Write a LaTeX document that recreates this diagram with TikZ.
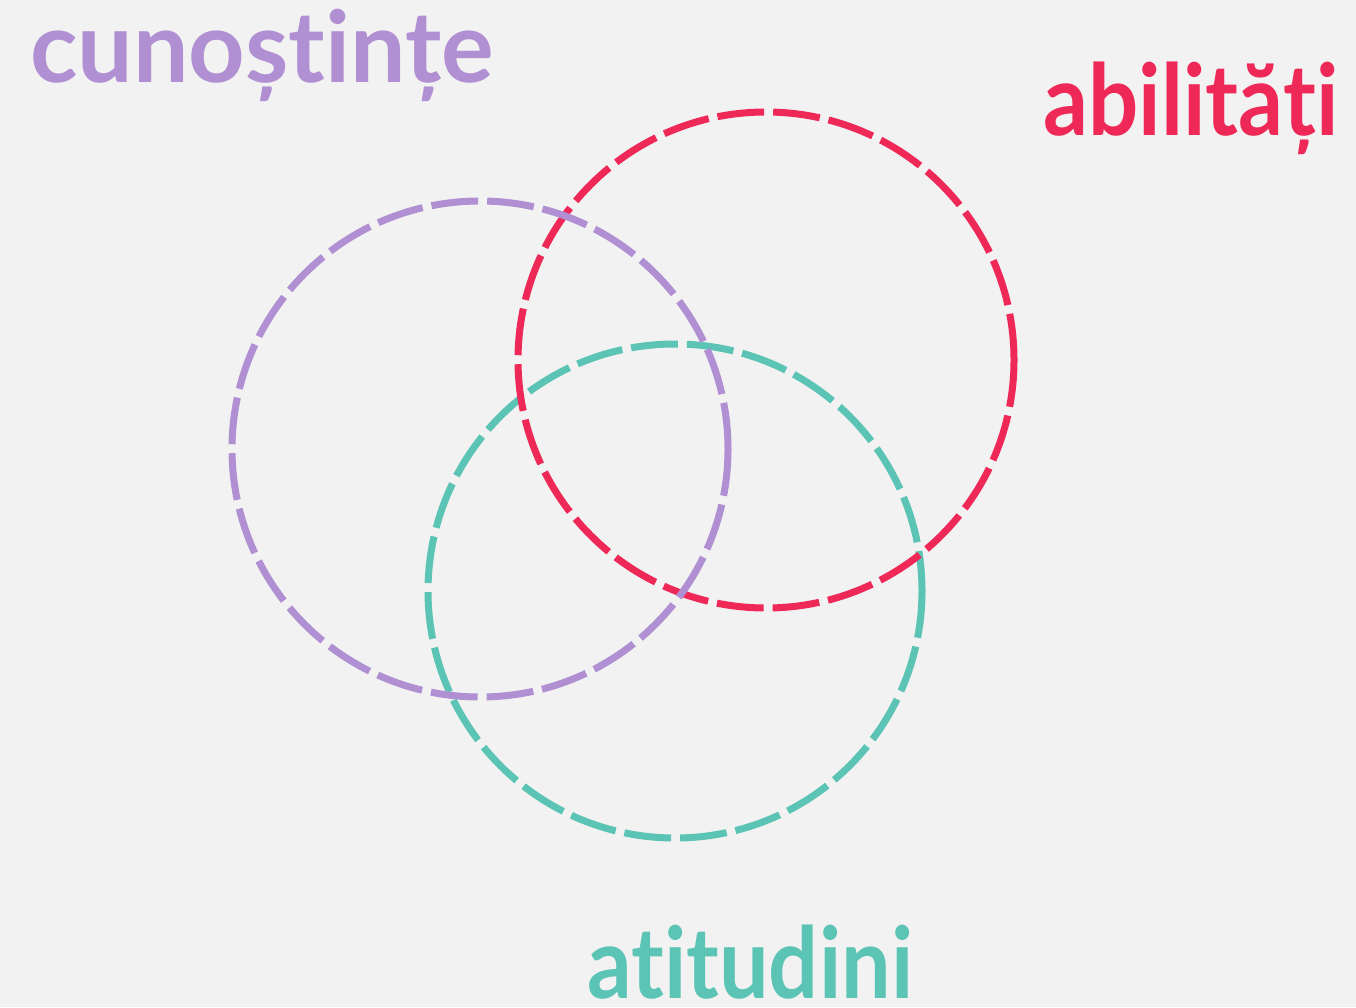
\documentclass[tikz,border=0pt]{standalone}
\usepackage{fontspec}
\usepackage{graphicx}
\setmainfont{Lato}[Ligatures={NoCommon}]
\definecolor{bgc}{HTML}{F2F2F2}
\definecolor{cpur}{HTML}{B08FD2}
\definecolor{cred}{HTML}{EE2857}
\definecolor{cteal}{HTML}{5BC4B5}
\newcommand{\fitw}[2]{\resizebox{#1}{\height}{#2}}
\begin{document}
\begin{tikzpicture}[x=1pt,y=-1pt,
  ring/.style={line width=7pt, dash pattern=on 47pt off 9pt},
  lbl/.style={inner sep=0pt, anchor=base west, font=\bfseries\fontsize{99}{100}\selectfont}]
\fill[bgc] (0,0) rectangle (1356,1007);
\useasboundingbox (0,0) rectangle (1356,1007);
\coordinate (cA) at (675,591);
\coordinate (cB) at (766,360);
\coordinate (cC) at (480,449);
\draw[ring, cteal] (cA) circle[radius=247];
\draw[ring, cred] (cB) circle[radius=248];
\draw[ring, cpur] (cC) circle[radius=248];
\node[lbl, text=cpur] (k) at (30,82) {\fitw{464pt}{cunoștințe}};
\node[lbl, text=cred] (s) at (1043,135) {\fitw{295pt}{abilități}};
\node[lbl, text=cteal] (a) at (587,998) {\fitw{326pt}{atitudini}};
\end{tikzpicture}
\end{document}
